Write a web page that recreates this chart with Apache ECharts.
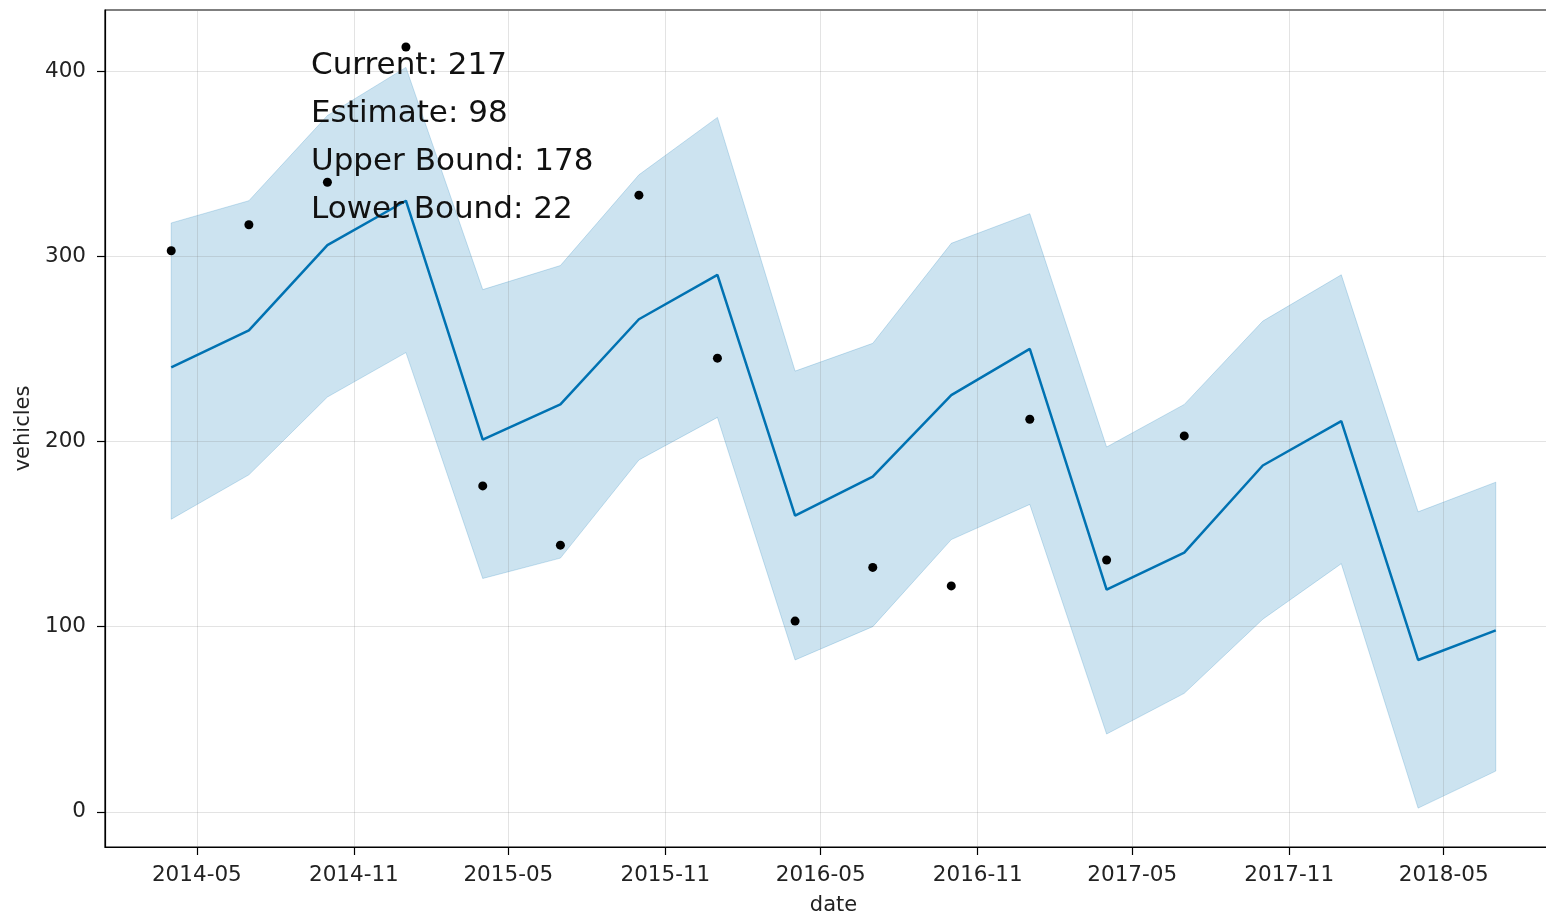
<!DOCTYPE html>
<html>
<head>
<meta charset="utf-8">
<title>vehicles forecast</title>
<script src="https://cdn.jsdelivr.net/npm/echarts@6/dist/echarts.min.js"></script>
<style>
  html, body { margin: 0; padding: 0; background: #fff; }
  #main { width: 1546px; height: 913px; }
</style>
</head>
<body>
<div id="main"></div>
<script>
// quarterly dates (forecast runs past the last observation)
var dates = [
  '2014-04-01', '2014-07-01', '2014-10-01', '2015-01-01',
  '2015-04-01', '2015-07-01', '2015-10-01', '2016-01-01',
  '2016-04-01', '2016-07-01', '2016-10-01', '2017-01-01',
  '2017-04-01', '2017-07-01', '2017-10-01', '2018-01-01',
  '2018-04-01', '2018-07-01'
];
// observed vehicles (first 14 quarters)
var actual = [303, 317, 340, 413, 176, 144, 333, 245, 103, 132, 122, 212, 136, 203];
// model estimate and uncertainty interval
var estimate = [240, 260, 306, 330, 201, 220, 266, 290, 160, 181, 225, 250, 120, 140, 187, 211, 82, 98];
var upper    = [318, 330, 376, 402, 282, 295, 344, 375, 238, 253, 307, 323, 197, 220, 265, 290, 162, 178];
var lower    = [158, 182, 224, 248, 126, 137, 190, 213,  82, 100, 147, 166,  42,  64, 104, 134,   2,  22];
// axis ticks
var xTicks = ['2014-05-01', '2014-11-01', '2015-05-01', '2015-11-01', '2016-05-01',
              '2016-11-01', '2017-05-01', '2017-11-01', '2018-05-01'];
var yTicks = [0, 100, 200, 300, 400];
// annotation text
var summary = [['Current', 217], ['Estimate', 98], ['Upper Bound', 178], ['Lower Bound', 22]];

function ts(s) {
  var p = s.split('-');
  return Date.UTC(+p[0], +p[1] - 1, +p[2]);
}
function pad(n) { return n < 10 ? '0' + n : '' + n; }

var xs = dates.map(ts);
var span = xs[xs.length - 1] - xs[0];
var xMin = xs[0] - 0.05 * span;
var xMax = xs[xs.length - 1] + 0.05 * span;

var FONT = 'DejaVu Sans';
var BLUE = '#0072B2';
var BAND = 'rgba(0,114,178,0.2)';

var chart = echarts.init(document.getElementById('main'), null, { renderer: 'canvas' });

// whole interval band as one polygon: upper edge forward, lower edge back
function renderBand(params, api) {
  if (params.dataIndex !== 0) return;
  var n = xs.length, pts = [], i;
  for (i = 0; i < n; i++) pts.push(api.coord([api.value(0, i), api.value(2, i)]));
  for (i = n - 1; i >= 0; i--) pts.push(api.coord([api.value(0, i), api.value(1, i)]));
  return {
    type: 'polygon',
    shape: { points: pts },
    style: { fill: BAND, stroke: BAND, lineWidth: 1 }
  };
}

chart.setOption({
  animation: false,
  backgroundColor: '#fff',
  grid: {
    left: 105, top: 10, width: 1457, height: 837,
    outerBoundsMode: 'none',
    containLabel: false,
    show: true, borderColor: '#000', borderWidth: 1.2,
    backgroundColor: 'transparent'
  },
  xAxis: {
    type: 'value',
    min: xMin, max: xMax,
    name: 'date',
    nameLocation: 'middle',
    nameGap: 48,
    nameTextStyle: { fontFamily: FONT, fontSize: 21, color: '#222' },
    axisLine: { show: true, onZero: false, lineStyle: { color: '#000', width: 1.2 } },
    axisTick: {
      show: true, length: 8, inside: false,
      customValues: xTicks.map(ts),
      lineStyle: { color: '#000', width: 1.2 }
    },
    axisLabel: {
      customValues: xTicks.map(ts),
      margin: 17,
      fontFamily: FONT, fontSize: 21.5, color: '#222',
      formatter: function (v) {
        var d = new Date(v);
        return d.getUTCFullYear() + '-' + pad(d.getUTCMonth() + 1);
      }
    },
    splitLine: { show: true, lineStyle: { color: 'rgba(128,128,128,0.22)', width: 1 } }
  },
  yAxis: {
    type: 'value',
    min: -19, max: 433,
    name: 'vehicles',
    nameLocation: 'middle',
    nameGap: 68,
    nameTextStyle: { fontFamily: FONT, fontSize: 21, color: '#222' },
    axisLine: { show: true, onZero: false, lineStyle: { color: '#000', width: 1.2 } },
    axisTick: {
      show: true, length: 8, inside: false,
      customValues: yTicks,
      lineStyle: { color: '#000', width: 1.2 }
    },
    axisLabel: {
      customValues: yTicks,
      margin: 19,
      fontFamily: FONT, fontSize: 21.5, color: '#222'
    },
    splitLine: { show: true, lineStyle: { color: 'rgba(128,128,128,0.22)', width: 1 } }
  },
  graphic: summary.map(function (s, i) {
    return {
      type: 'text',
      left: 311,
      top: 50 + i * 48,
      z: 10,
      style: {
        text: s[0] + ': ' + s[1],
        font: '31px "DejaVu Sans"',
        fill: '#111'
      }
    };
  }),
  series: [
    {
      name: 'interval', type: 'custom', z: -1, silent: true,
      data: xs.map(function (x, i) { return [x, lower[i], upper[i]]; }),
      encode: { x: 0, y: [1, 2] },
      renderItem: renderBand
    },
    {
      name: 'estimate', type: 'line', z: 3,
      data: xs.map(function (x, i) { return [x, estimate[i]]; }),
      symbol: 'none', lineStyle: { color: BLUE, width: 2.5 }
    },
    {
      name: 'actual', type: 'scatter', z: 4,
      data: actual.map(function (v, i) { return [xs[i], v]; }),
      symbol: 'circle', symbolSize: 9,
      itemStyle: { color: '#000', opacity: 1 }
    }
  ]
});
</script>
</body>
</html>
